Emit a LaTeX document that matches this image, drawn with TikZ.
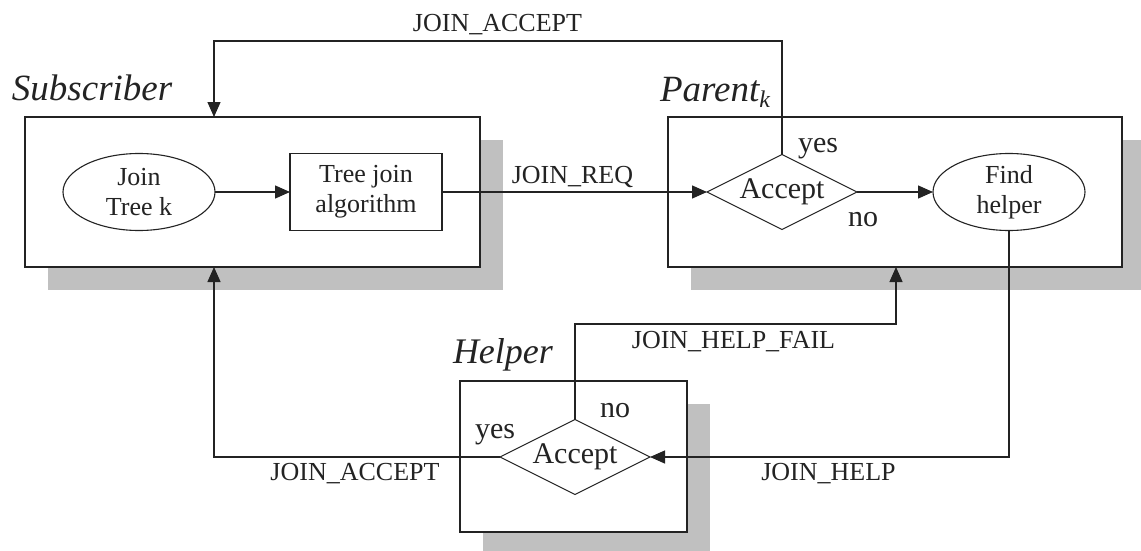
\documentclass[tikz,border=0pt]{standalone}
\usepackage{fontspec}
\setmainfont{Liberation Serif}
\usetikzlibrary{shapes.geometric,arrows.meta,shadows}
\definecolor{shadowgray}{RGB}{192,192,192}
\definecolor{ink}{RGB}{35,35,35}
\begin{document}
\begin{tikzpicture}[x=1pt,y=-1pt,
  every node/.style={inner sep=0pt, outer sep=0pt, text=ink},
  frame/.style={draw=ink, line width=1.4pt, fill=white, rectangle,
    drop shadow={shadow xshift=23pt, shadow yshift=-23pt, fill=shadowgray, opacity=1}},
  blob/.style={draw=ink, line width=1.1pt, ellipse, minimum width=152pt, minimum height=77pt,
    align=center, font=\fontsize{26}{30}\selectfont},
  procbox/.style={draw=ink, line width=1.1pt, rectangle, minimum width=152pt, minimum height=77pt,
    align=center, font=\fontsize{26}{30}\selectfont},
  decide/.style={draw=ink, line width=1.1pt, diamond, aspect=2, minimum width=150pt, minimum height=75pt,
    font=\fontsize{30}{34}\selectfont},
  flow/.style={draw=ink, line width=1.3pt, -{Triangle[length=15pt,width=13pt]}},
  msg/.style={anchor=base, font=\fontsize{26}{30}\selectfont},
  branch/.style={anchor=base west, font=\fontsize{30}{34}\selectfont},
  role/.style={anchor=base west, font=\fontsize{37}{40}\selectfont\itshape}]
\useasboundingbox (0,0) rectangle (1141,551);

% the three participants
\node[frame, minimum width=455pt, minimum height=150pt] (sub) at (252.5,192) {};
\node[frame, minimum width=454pt, minimum height=150pt] (par) at (895,192) {};
\node[frame, minimum width=227pt, minimum height=151pt] (hlp) at (573.5,456.5) {};

\node[role] (subname) at (12,100) {Subscriber};
\node[role] (parname) at (660,101) {Parent\raisebox{-6pt}{\fontsize{24}{24}\selectfont\itshape k}};
\node[role, font=\fontsize{36}{40}\selectfont\itshape] (hlpname) at (453,363) {Helper};

% subscriber side
\node[blob] (join) at (139,192) {Join\\Tree k};
\node[procbox] (tree) at (366,192) {Tree join\\algorithm};

% parent side
\node[decide] (pacc) at (782,192) {Accept};
\node[blob] (find) at (1009,192) {Find\\helper};

% helper side
\node[decide] (hacc) at (575,457) {Accept};

% route corners
\coordinate (topleft) at (214,41);
\coordinate (failturn) at (896,324);

% connectors
\draw[flow] (join) -- (tree);
\draw[flow] (tree.east) -- (pacc.west);
\draw[flow] (pacc.east) -- (find.west);
\draw[flow] (pacc.north) |- (topleft) -- (sub.north -| topleft);
\draw[flow] (find.south) |- (hacc.east);
\draw[flow] (hacc.north) |- (failturn) -- (par.south -| failturn);
\draw[flow] (hacc.west) -| (sub.south -| topleft);

% message labels
\node[msg] (mreq) at (572.5,183) {JOIN\_REQ};
\node[msg] (macc1) at (497.5,32) {JOIN\_ACCEPT};
\node[msg] (mhelp) at (828.5,480) {JOIN\_HELP};
\node[msg] (mfail) at (733.5,348) {JOIN\_HELP\_FAIL};
\node[msg] (macc2) at (355,480) {JOIN\_ACCEPT};

% branch labels
\node[branch] (pyes) at (798,152) {yes};
\node[branch] (pno) at (848,226) {no};
\node[branch] (hno) at (600,417) {no};
\node[branch] (hyes) at (475,438) {yes};
\end{tikzpicture}
\end{document}
